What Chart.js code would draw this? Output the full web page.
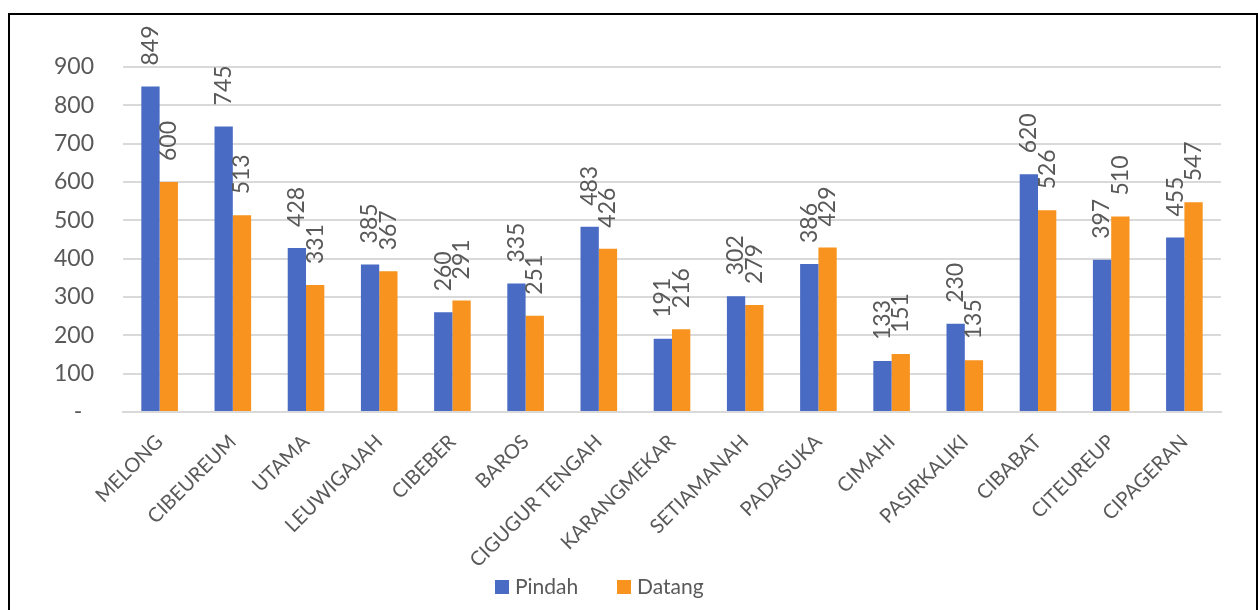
<!DOCTYPE html>
<html>
<head>
<meta charset="utf-8">
<script src="https://cdn.jsdelivr.net/npm/chart.js@4/dist/chart.umd.min.js"></script>
<style>
  html, body { margin: 0; padding: 0; background: #fff; }
  #wrap { position: absolute; left: 0; top: 0; width: 1258px; height: 610px; }
  #frame { position: absolute; left: 8px; top: 13px; width: 1246px; height: 640px; border: 2px solid #000; }
</style>
</head>
<body>
<div id="frame"></div>
<div id="wrap"><canvas id="myChart" width="1258" height="610"></canvas></div>
<script>
const categories = ["MELONG", "CIBEUREUM", "UTAMA", "LEUWIGAJAH", "CIBEBER", "BAROS", "CIGUGUR TENGAH",
  "KARANGMEKAR", "SETIAMANAH", "PADASUKA", "CIMAHI", "PASIRKALIKI", "CIBABAT", "CITEUREUP", "CIPAGERAN"];
const pindah = [849, 745, 428, 385, 260, 335, 483, 191, 302, 386, 133, 230, 620, 397, 455];
const datang = [600, 513, 331, 367, 291, 251, 426, 216, 279, 429, 151, 135, 526, 510, 547];
const yTicks = [0, 100, 200, 300, 400, 500, 600, 700, 800, 900];

const textColor = "#595959";
const fontName = "Lato, 'Open Sans', sans-serif";

// vertical value labels above each bar
const barLabels = {
  id: "barLabels",
  afterDatasetsDraw(chart) {
    const ctx = chart.ctx;
    ctx.save();
    ctx.font = "23px " + fontName;
    ctx.fillStyle = textColor;
    chart.data.datasets.forEach((ds, i) => {
      const meta = chart.getDatasetMeta(i);
      meta.data.forEach((bar, j) => {
        ctx.save();
        ctx.translate(bar.x, bar.y - 21);
        ctx.rotate(-Math.PI / 2);
        ctx.textAlign = "left";
        ctx.textBaseline = "middle";
        ctx.fillText(ds.data[j], 0, 0);
        ctx.restore();
      });
    });
    ctx.restore();
  },
};

// legend below the axis labels, drawn like the original
const bottomLegend = {
  id: "bottomLegend",
  afterDraw(chart) {
    const ctx = chart.ctx;
    const y = 587;
    let x = 495;
    ctx.save();
    ctx.font = "21px " + fontName;
    ctx.textBaseline = "middle";
    ctx.textAlign = "left";
    chart.data.datasets.forEach((ds) => {
      ctx.fillStyle = ds.backgroundColor;
      ctx.fillRect(x, y - 7, 14, 14);
      ctx.fillStyle = textColor;
      ctx.fillText(ds.label, x + 20, y);
      x += 122;
    });
    ctx.restore();
  },
};

const ctx = document.getElementById("myChart").getContext("2d");
new Chart(ctx, {
  type: "bar",
  data: {
    labels: categories,
    datasets: [
      { label: "Pindah", data: pindah, backgroundColor: "#4A6BC4" },
      { label: "Datang", data: datang, backgroundColor: "#F7931E" },
    ],
  },
  options: {
    responsive: false,
    animation: false,
    categoryPercentage: 0.5,
    barPercentage: 1.0,
    layout: { padding: { left: 25, right: 37, top: 67, bottom: 43 } },
    plugins: {
      legend: { display: false },
      tooltip: { enabled: false },
    },
    scales: {
      x: {
        grid: { display: false },
        border: { display: true, color: "#d9d9d9", width: 2 },
        ticks: {
          color: textColor,
          font: { family: fontName, size: 20 },
          minRotation: 45,
          maxRotation: 45,
          padding: 10,
        },
        afterFit(s) { s.height = 155; },
      },
      y: {
        min: 0,
        max: 900,
        afterBuildTicks(s) { s.ticks = yTicks.map((v) => ({ value: v })); },
        grid: { color: "#d9d9d9", lineWidth: 2, drawTicks: false },
        border: { display: false },
        ticks: {
          color: textColor,
          font: { family: fontName, size: 23 },
          padding: 29,
          callback: (v) => (v === 0 ? "-  " : v),
        },
      },
    },
  },
  plugins: [barLabels, bottomLegend],
});
</script>
</body>
</html>
